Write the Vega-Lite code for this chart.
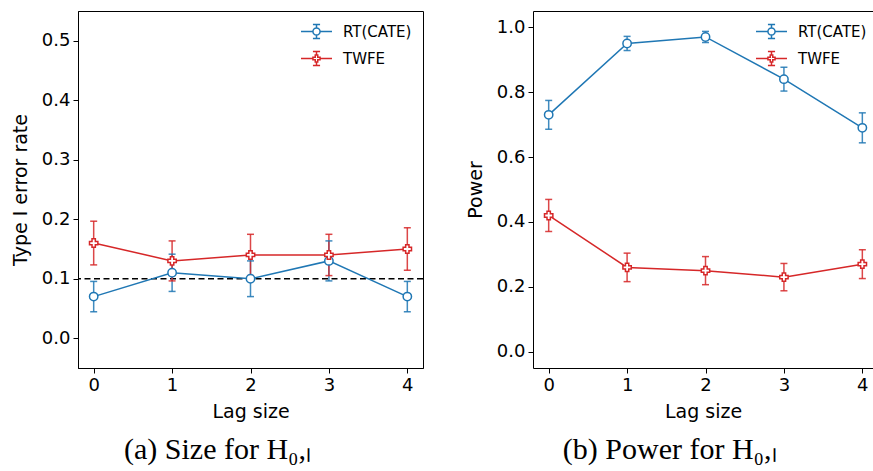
{
  "$schema": "https://vega.github.io/schema/vega-lite/v6.json",
  "padding": {"left": 10, "top": 10, "right": 0, "bottom": 0},
  "background": "white",
  "config": {
    "view": {"stroke": "black", "strokeWidth": 1},
    "axis": {
      "grid": false,
      "labelFont": "DejaVu Sans",
      "labelFontSize": 18,
      "labelColor": "black",
      "titleFont": "DejaVu Sans",
      "titleFontSize": 19,
      "titleFontWeight": "normal",
      "titleColor": "black",
      "tickColor": "black",
      "tickSize": 5,
      "tickWidth": 1,
      "domainColor": "black",
      "domainWidth": 1,
      "labelPadding": 3
    },
    "title": {"font": "Liberation Serif", "fontSize": 30, "fontWeight": "normal", "color": "black"}
  },
  "datasets": {
    "size": [
      {"lag": 0, "method": "RT(CATE)", "value": 0.07, "lo": 0.0445, "hi": 0.0955},
      {"lag": 1, "method": "RT(CATE)", "value": 0.11, "lo": 0.0787, "hi": 0.1413},
      {"lag": 2, "method": "RT(CATE)", "value": 0.10, "lo": 0.07, "hi": 0.13},
      {"lag": 3, "method": "RT(CATE)", "value": 0.13, "lo": 0.0964, "hi": 0.1636},
      {"lag": 4, "method": "RT(CATE)", "value": 0.07, "lo": 0.0445, "hi": 0.0955},
      {"lag": 0, "method": "TWFE", "value": 0.16, "lo": 0.1233, "hi": 0.1967},
      {"lag": 1, "method": "TWFE", "value": 0.13, "lo": 0.0964, "hi": 0.1636},
      {"lag": 2, "method": "TWFE", "value": 0.14, "lo": 0.1053, "hi": 0.1747},
      {"lag": 3, "method": "TWFE", "value": 0.14, "lo": 0.1053, "hi": 0.1747},
      {"lag": 4, "method": "TWFE", "value": 0.15, "lo": 0.1143, "hi": 0.1857}
    ],
    "power": [
      {"lag": 0, "method": "RT(CATE)", "value": 0.73, "lo": 0.6856, "hi": 0.7744},
      {"lag": 1, "method": "RT(CATE)", "value": 0.95, "lo": 0.9282, "hi": 0.9718},
      {"lag": 2, "method": "RT(CATE)", "value": 0.97, "lo": 0.9529, "hi": 0.9871},
      {"lag": 3, "method": "RT(CATE)", "value": 0.84, "lo": 0.8033, "hi": 0.8767},
      {"lag": 4, "method": "RT(CATE)", "value": 0.69, "lo": 0.6438, "hi": 0.7362},
      {"lag": 0, "method": "TWFE", "value": 0.42, "lo": 0.3706, "hi": 0.4694},
      {"lag": 1, "method": "TWFE", "value": 0.26, "lo": 0.2161, "hi": 0.3039},
      {"lag": 2, "method": "TWFE", "value": 0.25, "lo": 0.2067, "hi": 0.2933},
      {"lag": 3, "method": "TWFE", "value": 0.23, "lo": 0.1879, "hi": 0.2721},
      {"lag": 4, "method": "TWFE", "value": 0.27, "lo": 0.2256, "hi": 0.3144}
    ],
    "ref": [{"y": 0.1}]
  },
  "spacing": 41,
  "resolve": {"scale": {"color": "independent", "stroke": "independent", "shape": "independent"}, "legend": {"color": "independent", "stroke": "independent", "shape": "independent"}},
  "hconcat": [
    {
      "width": 345,
      "height": 357,
      "title": {"text": "(a) Size for H₀,ₗ", "orient": "bottom", "frame": "bounds", "anchor": "middle", "offset": 14},
      "layer": [
        {
          "data": {"name": "ref"},
          "mark": {"type": "rule", "color": "black", "strokeWidth": 1.5, "strokeDash": [6, 3.5]},
          "encoding": {"y": {"field": "y", "type": "quantitative", "scale": {"domain": [-0.05, 0.55], "nice": false, "zero": false}}}
        },
        {
          "data": {"name": "size"},
          "mark": {"type": "rule", "strokeWidth": 1.5, "opacity": 0.85},
          "encoding": {
            "x": {"field": "lag", "type": "quantitative"},
            "y": {"field": "lo", "type": "quantitative"},
            "y2": {"field": "hi"},
            "stroke": {"field": "method", "type": "nominal", "legend": null, "scale": {"domain": ["RT(CATE)", "TWFE"], "range": ["#1f77b4", "#d62728"]}}
          }
        },
        {
          "data": {"name": "size"},
          "mark": {"type": "rule", "strokeWidth": 1.5, "opacity": 0.85, "xOffset": -3.5, "x2Offset": 3.5},
          "encoding": {
            "x": {"field": "lag", "type": "quantitative"},
            "x2": {"field": "lag"},
            "y": {"field": "lo", "type": "quantitative"},
            "stroke": {"field": "method", "type": "nominal", "legend": null}
          }
        },
        {
          "data": {"name": "size"},
          "mark": {"type": "rule", "strokeWidth": 1.5, "opacity": 0.85, "xOffset": -3.5, "x2Offset": 3.5},
          "encoding": {
            "x": {"field": "lag", "type": "quantitative"},
            "x2": {"field": "lag"},
            "y": {"field": "hi", "type": "quantitative"},
            "stroke": {"field": "method", "type": "nominal", "legend": null}
          }
        },
        {
          "data": {"name": "size"},
          "mark": {"type": "line", "strokeWidth": 1.5},
          "encoding": {
            "x": {"field": "lag", "type": "quantitative", "title": "Lag size", "scale": {"domain": [-0.2, 4.2], "nice": false, "zero": false}, "axis": {"values": [0, 1, 2, 3, 4], "format": "d", "titlePadding": 8}},
            "y": {"field": "value", "type": "quantitative", "title": "Type I error rate", "scale": {"domain": [-0.05, 0.55], "nice": false, "zero": false}, "axis": {"values": [0, 0.1, 0.2, 0.3, 0.4, 0.5], "format": ".1f", "titlePadding": 11}},
            "color": {
              "field": "method", "type": "nominal",
              "scale": {"range": ["#1f77b4", "#d62728"]},
              "legend": {
                "orient": "none", "legendX": 222, "legendY": 4, "title": null, "padding": 0,
                "labelFont": "DejaVu Sans", "labelFontSize": 15, "labelColor": "black",
                "symbolSize": 961, "labelOffset": 10, "rowPadding": -16, "symbolStrokeWidth": 1.5,
                "encode": {"symbols": {"update": {
                  "shape": {"signal": "datum.value === 'TWFE' ? 'M-1,0H-0.23M0.23,0H1M0,-0.45V-0.23M0,0.23V0.45M-0.23,-0.45H0.23M-0.23,0.45H0.23M-0.08,-0.23H0.08V-0.08H0.23V0.08H0.08V0.23H-0.08V0.08H-0.23V-0.08H-0.08Z' : 'M-1,0H-0.23M0.23,0H1M0,-0.45V-0.23M0,0.23V0.45M-0.23,-0.45H0.23M-0.23,0.45H0.23M0.23,0A0.23,0.23,0,1,1,-0.23,0A0.23,0.23,0,1,1,0.23,0Z'"},
                  "fill": {"value": "white"},
                  "strokeWidth": {"value": 1.5}
                }}}
              }
            }
          }
        },
        {
          "data": {"name": "size"},
          "mark": {"type": "point", "filled": false, "fill": "white", "strokeWidth": 1.5, "size": 70, "opacity": 1},
          "encoding": {
            "x": {"field": "lag", "type": "quantitative"},
            "y": {"field": "value", "type": "quantitative"},
            "stroke": {"field": "method", "type": "nominal", "legend": null},
            "shape": {"field": "method", "type": "nominal", "scale": {"domain": ["RT(CATE)", "TWFE"], "range": ["circle", "cross"]}, "legend": null}
          }
        }
      ]
    },
    {
      "width": 340,
      "height": 357,
      "view": {"stroke": null},
      "title": {"text": "(b) Power for H₀,ₗ", "orient": "bottom", "frame": "bounds", "anchor": "middle", "offset": 14},
      "resolve": {"axis": {"x": "independent"}},
      "layer": [
        {
          "data": {"name": "power"},
          "mark": {"type": "rule", "strokeWidth": 1.5, "opacity": 0.85},
          "encoding": {
            "x": {"field": "lag", "type": "quantitative", "axis": {"orient": "top", "labels": false, "ticks": false, "title": null, "domain": true}},
            "y": {"field": "lo", "type": "quantitative"},
            "y2": {"field": "hi"},
            "stroke": {"field": "method", "type": "nominal", "legend": null, "scale": {"domain": ["RT(CATE)", "TWFE"], "range": ["#1f77b4", "#d62728"]}}
          }
        },
        {
          "data": {"name": "power"},
          "mark": {"type": "rule", "strokeWidth": 1.5, "opacity": 0.85, "xOffset": -3.5, "x2Offset": 3.5},
          "encoding": {
            "x": {"field": "lag", "type": "quantitative", "axis": null},
            "x2": {"field": "lag"},
            "y": {"field": "lo", "type": "quantitative"},
            "stroke": {"field": "method", "type": "nominal", "legend": null}
          }
        },
        {
          "data": {"name": "power"},
          "mark": {"type": "rule", "strokeWidth": 1.5, "opacity": 0.85, "xOffset": -3.5, "x2Offset": 3.5},
          "encoding": {
            "x": {"field": "lag", "type": "quantitative", "axis": null},
            "x2": {"field": "lag"},
            "y": {"field": "hi", "type": "quantitative"},
            "stroke": {"field": "method", "type": "nominal", "legend": null}
          }
        },
        {
          "data": {"name": "power"},
          "mark": {"type": "line", "strokeWidth": 1.5},
          "encoding": {
            "x": {"field": "lag", "type": "quantitative", "title": "Lag size", "scale": {"domain": [-0.2, 4.136], "nice": false, "zero": false}, "axis": {"values": [0, 1, 2, 3, 4], "format": "d", "titlePadding": 8}},
            "y": {"field": "value", "type": "quantitative", "title": "Power", "scale": {"domain": [-0.05, 1.05], "nice": false, "zero": false}, "axis": {"values": [0, 0.2, 0.4, 0.6, 0.8, 1.0], "format": ".1f", "titlePadding": 11}},
            "color": {
              "field": "method", "type": "nominal",
              "scale": {"range": ["#1f77b4", "#d62728"]},
              "legend": {
                "orient": "none", "legendX": 222, "legendY": 4, "title": null, "padding": 0,
                "labelFont": "DejaVu Sans", "labelFontSize": 15, "labelColor": "black",
                "symbolSize": 961, "labelOffset": 10, "rowPadding": -16, "symbolStrokeWidth": 1.5,
                "encode": {"symbols": {"update": {
                  "shape": {"signal": "datum.value === 'TWFE' ? 'M-1,0H-0.23M0.23,0H1M0,-0.45V-0.23M0,0.23V0.45M-0.23,-0.45H0.23M-0.23,0.45H0.23M-0.08,-0.23H0.08V-0.08H0.23V0.08H0.08V0.23H-0.08V0.08H-0.23V-0.08H-0.08Z' : 'M-1,0H-0.23M0.23,0H1M0,-0.45V-0.23M0,0.23V0.45M-0.23,-0.45H0.23M-0.23,0.45H0.23M0.23,0A0.23,0.23,0,1,1,-0.23,0A0.23,0.23,0,1,1,0.23,0Z'"},
                  "fill": {"value": "white"},
                  "strokeWidth": {"value": 1.5}
                }}}
              }
            }
          }
        },
        {
          "data": {"name": "power"},
          "mark": {"type": "point", "filled": false, "fill": "white", "strokeWidth": 1.5, "size": 70, "opacity": 1},
          "encoding": {
            "x": {"field": "lag", "type": "quantitative", "axis": null},
            "y": {"field": "value", "type": "quantitative"},
            "stroke": {"field": "method", "type": "nominal", "legend": null},
            "shape": {"field": "method", "type": "nominal", "scale": {"domain": ["RT(CATE)", "TWFE"], "range": ["circle", "cross"]}, "legend": null}
          }
        }
      ]
    }
  ]
}
